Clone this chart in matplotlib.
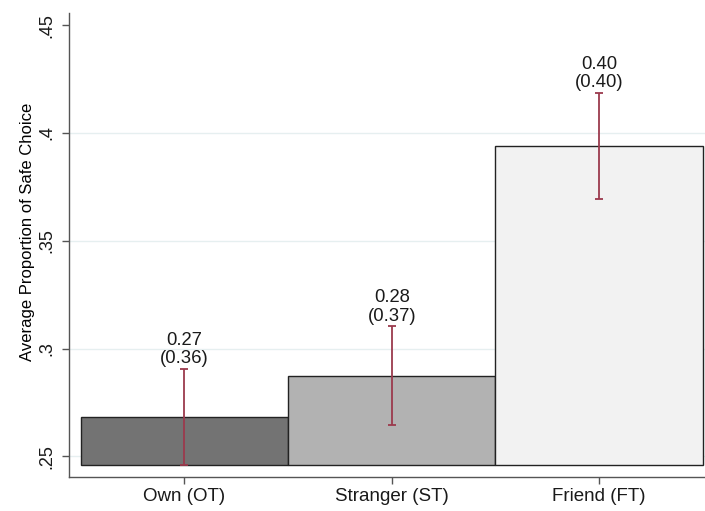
import matplotlib
matplotlib.use("Agg")
import matplotlib.pyplot as plt

categories = ["Own (OT)", "Stranger (ST)", "Friend (FT)"]
means = [0.2683, 0.2874, 0.3938]
ci_low = [0.2460, 0.2645, 0.3692]
ci_high = [0.2906, 0.3103, 0.4186]
label_top = ["0.27", "0.28", "0.40"]
label_bottom = ["(0.36)", "(0.37)", "(0.40)"]
yticks = [0.25, 0.30, 0.35, 0.40, 0.45]
ytick_labels = [".25", ".3", ".35", ".4", ".45"]
base = 0.2461

bar_colors = ["#737373", "#b2b2b2", "#f2f2f2"]
err_color = "#9b3a4d"

plt.rcParams['font.family'] = ['Liberation Sans', 'DejaVu Sans']

fig = plt.figure(figsize=(7.05, 5.11), dpi=100)
ax = fig.add_axes([69/705, 1 - 476.7/511, 1 - 69/705, (476.7 - 13)/511])

x = list(range(len(categories)))
heights = [m - base for m in means]
ax.bar(x, heights, bottom=base, width=1.0, color=bar_colors,
       edgecolor="#222222", linewidth=1.0, zorder=2)

for i in x:
    ax.errorbar(i, means[i], yerr=[[means[i] - ci_low[i]], [ci_high[i] - means[i]]],
                fmt="none", ecolor=err_color, elinewidth=1.3, capsize=3.2,
                capthick=1.3, zorder=3)
    ax.text(i, ci_high[i] + 0.0008, label_top[i] + "\n" + label_bottom[i],
            ha="center", va="bottom", fontsize=13.3, linespacing=1.1,
            color="#1a1a1a", zorder=4)

ax.set_xlim(-0.556, 2.51)
ax.set_ylim(0.2406, 0.4556)
ax.set_xticks(x)
ax.set_xticklabels(categories, fontsize=13.5)
ax.set_yticks(yticks)
ax.set_yticklabels(ytick_labels, fontsize=13, rotation=90, va="center")
ax.set_ylabel("Average Proportion of Safe Choice", fontsize=12)
ax.yaxis.set_label_coords(-0.054, 0.528)

ax.grid(axis="y", color="#e6eff0", linewidth=1.0, zorder=0)
ax.yaxis.get_gridlines()[-1].set_visible(False)
ax.set_axisbelow(True)
for s in ["top", "right"]:
    ax.spines[s].set_visible(False)
for s in ["left", "bottom"]:
    ax.spines[s].set_color("#555555")
    ax.spines[s].set_linewidth(1.0)
ax.tick_params(axis="both", direction="out", length=5, width=1.0, color="#555555",
               labelcolor="#1a1a1a")
ax.tick_params(axis="x", pad=3)
ax.tick_params(axis="y", pad=5)

fig.savefig("out.png", dpi=100)
